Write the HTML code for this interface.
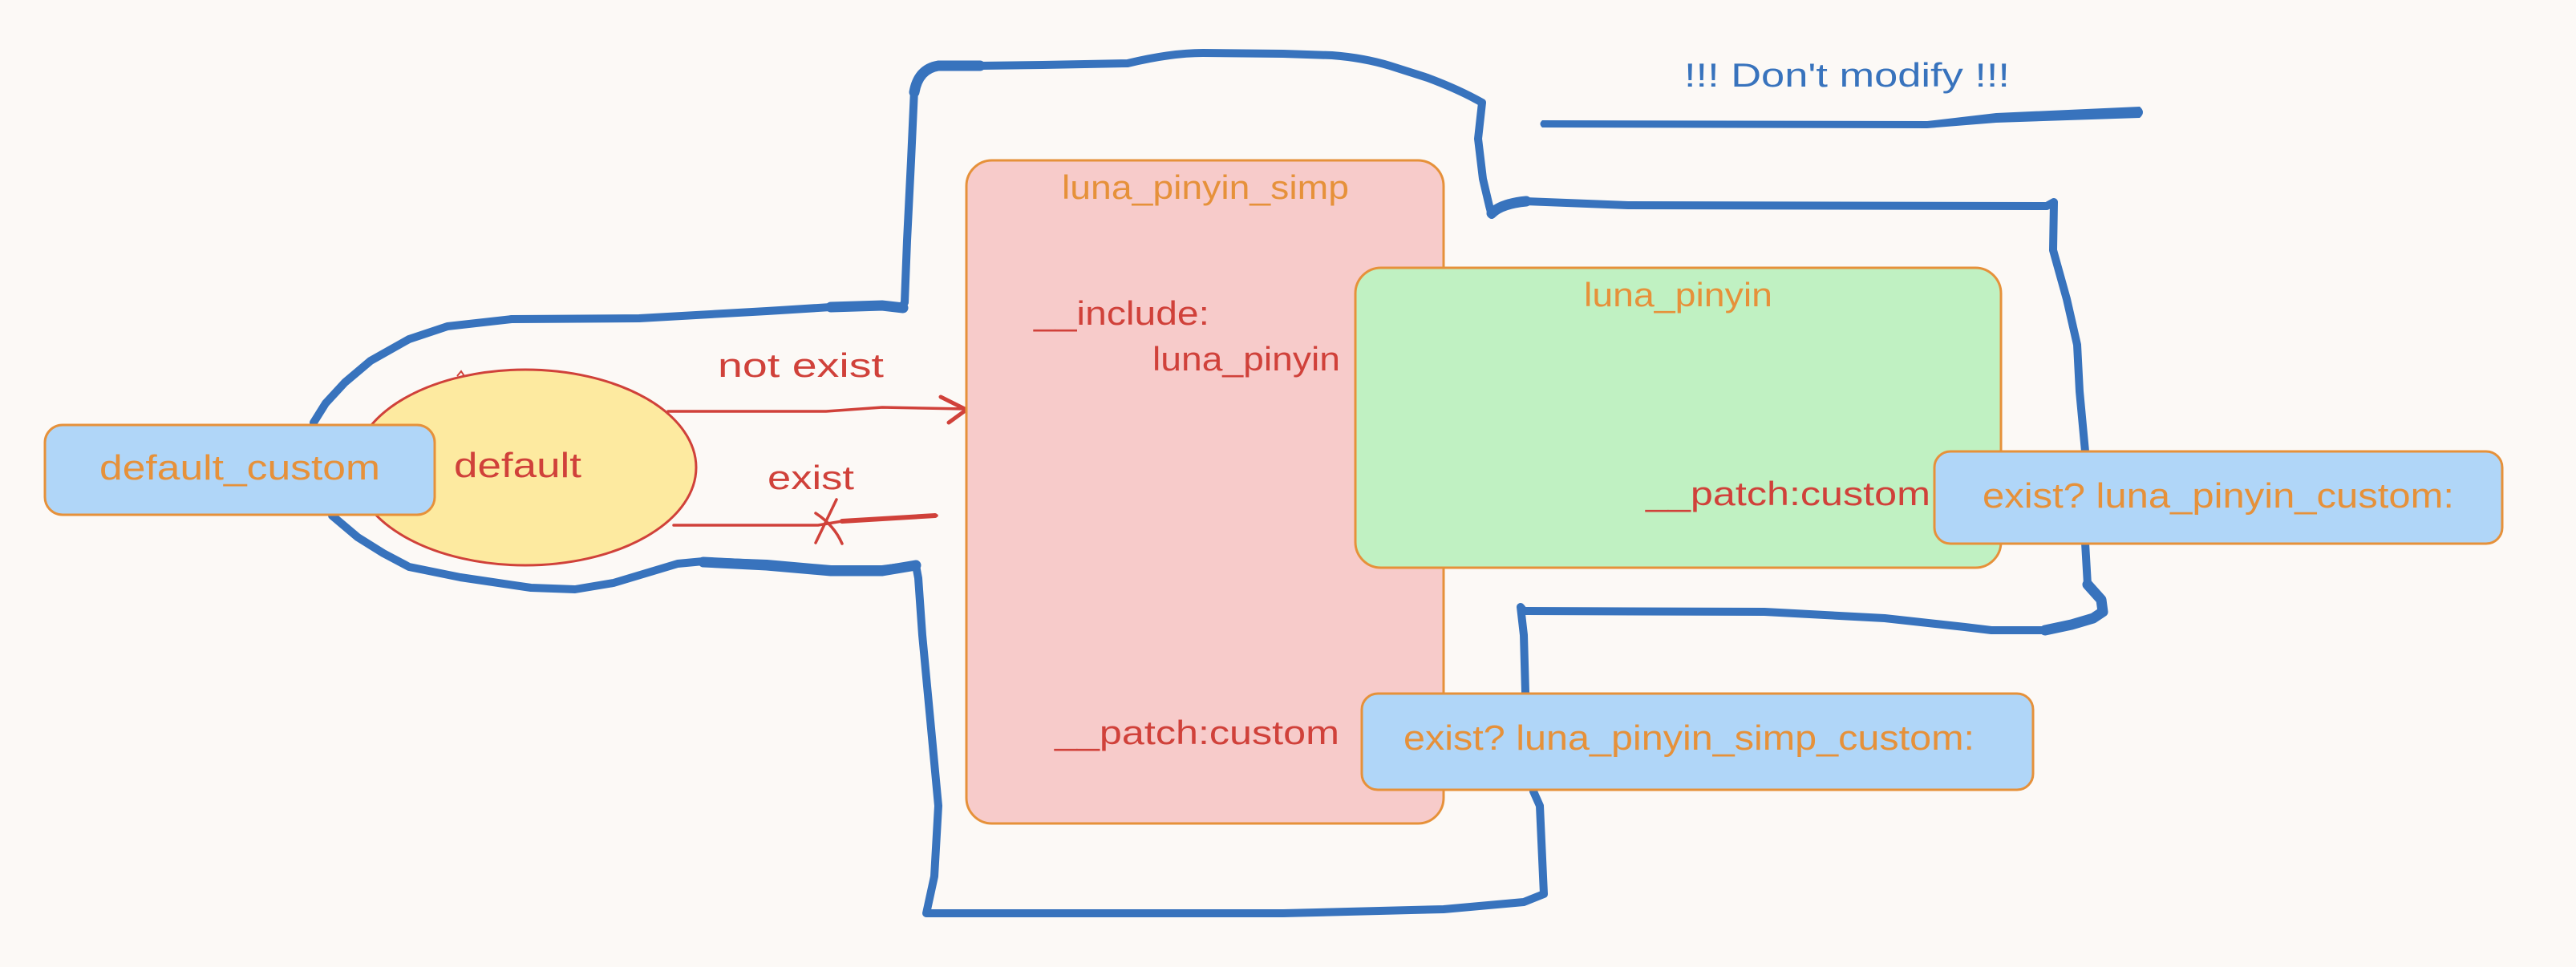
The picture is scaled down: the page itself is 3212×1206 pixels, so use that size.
<!DOCTYPE html>
<html>
<head>
<meta charset="utf-8">
<style>
  html,body{margin:0;padding:0;background:#fcf9f6;}
  svg{display:block;}
  text{font-family:"Liberation Sans", sans-serif;}
</style>
</head>
<body>
<svg width="3212" height="1206" viewBox="0 0 3212 1206" xmlns="http://www.w3.org/2000/svg">
  <rect x="0" y="0" width="3212" height="1206" fill="#fcf9f6"/>

  <!-- big blue hand-drawn loop (behind everything) -->
  <path d="M391,527 L406,503 L430,477 L462,450 L510,423 L558,407 L638,398 L797,397 L956,388 L1036,383 L1100,382 L1124,385 L1128,377 L1131,300 L1136,200 L1140,112 Q1145,84 1170,82 L1222,82 L1300,81 L1406,79 Q1460,66 1500,66 L1600,67 L1661,69 Q1700,72 1733,82 L1780,97 Q1820,112 1848,128 L1843,173 L1849,223 L1857,257 L1860,268 Q1870,254 1903,251 L2030,256 L2552,257 L2561,252 L2560,312 L2577,373 L2590,430 L2593,488 L2600,563 L2600,677 L2603,729 L2620,748 L2622,763 L2610,771 L2583,779 L2550,786 L2483,786 L2450,782 L2350,771 L2200,763 L1900,762 L1896,757 L1900,792 L1902,863 L1912,987 L1920,1005 L1925,1115 L1900,1125 L1800,1134 L1600,1139 L1155,1139 L1165,1093 L1170,1005 L1160,898 L1150,792 L1145,721 L1142,705 L1124,707 L1100,710 L1036,710 L956,703 L877,700 L845,703 L765,727 L717,735 L662,733 L574,720 L510,707 L478,690 L446,670 L414,643"
        fill="none" stroke="#3873bd" stroke-width="10" stroke-linejoin="round" stroke-linecap="round"/>
  <!-- thicker accents -->
  <path d="M1036,383 L1100,381 L1126,384" fill="none" stroke="#3873bd" stroke-width="13" stroke-linecap="round"/>
  <path d="M1140,115 Q1145,86 1170,82 L1222,82" fill="none" stroke="#3873bd" stroke-width="13" stroke-linecap="round"/>
  <path d="M1860,266 Q1872,254 1903,251" fill="none" stroke="#3873bd" stroke-width="13" stroke-linecap="round"/>
  <path d="M2603,729 L2620,748 L2622,763 L2610,771 L2583,779 L2550,786" fill="none" stroke="#3873bd" stroke-width="13" stroke-linecap="round" stroke-linejoin="round"/>
  <path d="M1142,705 L1124,708 L1100,712 L1036,712 L956,705 L877,701" fill="none" stroke="#3873bd" stroke-width="13" stroke-linecap="round" stroke-linejoin="round"/>

  <!-- Don't modify underline (tapered) -->
  <path d="M1923,150 L2403,151 L2489,141 L2668,133 Q2676,140 2668,147 L2489,153 L2403,160 L1923,159 Q1918,154.5 1923,150 Z" fill="#3873bd"/>
  <text x="2100" y="108" font-size="42" fill="#3873bd" textLength="406" lengthAdjust="spacingAndGlyphs">!!! Don't modify !!!</text>

  <!-- default ellipse -->
  <ellipse cx="655" cy="583" rx="213" ry="122" fill="#fdeaa0" stroke="#d0413a" stroke-width="3"/>
  <path d="M570,469 L575,463 L579,469" fill="none" stroke="#d0413a" stroke-width="2"/>

  <!-- default_custom box -->
  <rect x="56" y="530" width="486" height="112" rx="22" ry="22" fill="#b0d6f8" stroke="#e6913a" stroke-width="3"/>
  <text x="124" y="598" font-size="44" fill="#e6913a" textLength="350" lengthAdjust="spacingAndGlyphs">default_custom</text>
  <text x="566" y="595" font-size="44" fill="#d0413a" textLength="159" lengthAdjust="spacingAndGlyphs">default</text>

  <!-- arrows -->
  <path d="M833,513 L1030,513 L1100,508 L1203,510" fill="none" stroke="#d0413a" stroke-width="3.5" stroke-linecap="round" stroke-linejoin="round"/>
  <path d="M1173,495 L1205,511 L1183,527" fill="none" stroke="#d0413a" stroke-width="5" stroke-linecap="round" stroke-linejoin="round"/>
  <text x="895" y="470" font-size="42" fill="#d0413a" textLength="207" lengthAdjust="spacingAndGlyphs">not exist</text>

  <path d="M840,655 L1020,655 L1050,650 L1168,643" fill="none" stroke="#d0413a" stroke-width="3.5" stroke-linecap="round" stroke-linejoin="round"/>
  <path d="M1050,650 L1166,643" fill="none" stroke="#d0413a" stroke-width="6" stroke-linecap="round"/>
  <path d="M1043,623 Q1030,650 1017,677" fill="none" stroke="#d0413a" stroke-width="3.5" stroke-linecap="round"/>
  <path d="M1017,640 Q1040,655 1050,678" fill="none" stroke="#d0413a" stroke-width="3.5" stroke-linecap="round"/>
  <text x="957" y="610" font-size="42" fill="#d0413a" textLength="108" lengthAdjust="spacingAndGlyphs">exist</text>

  <!-- luna_pinyin_simp box -->
  <rect x="1205" y="200" width="595" height="827" rx="32" ry="32" fill="#f7cbca" stroke="#e6913a" stroke-width="3"/>
  <text x="1324" y="248" font-size="42" fill="#e6913a" textLength="358" lengthAdjust="spacingAndGlyphs">luna_pinyin_simp</text>
  <text x="1289" y="405" font-size="42" fill="#d0413a" textLength="219" lengthAdjust="spacingAndGlyphs">__include:</text>
  <text x="1437" y="462" font-size="42" fill="#d0413a" textLength="234" lengthAdjust="spacingAndGlyphs">luna_pinyin</text>
  <text x="1315" y="928" font-size="42" fill="#d0413a" textLength="355" lengthAdjust="spacingAndGlyphs">__patch:custom</text>

  <!-- luna_pinyin box -->
  <rect x="1690" y="334" width="805" height="374" rx="32" ry="32" fill="#c0f1c2" stroke="#e6913a" stroke-width="3"/>
  <text x="1975" y="382" font-size="42" fill="#e6913a" textLength="235" lengthAdjust="spacingAndGlyphs">luna_pinyin</text>
  <text x="2052" y="630" font-size="42" fill="#d0413a" textLength="355" lengthAdjust="spacingAndGlyphs">__patch:custom</text>

  <!-- exist? luna_pinyin_custom: -->
  <rect x="2412" y="563" width="708" height="115" rx="20" ry="20" fill="#b0d6f8" stroke="#e6913a" stroke-width="3"/>
  <text x="2472" y="633" font-size="44" fill="#e6913a" textLength="588" lengthAdjust="spacingAndGlyphs">exist? luna_pinyin_custom:</text>

  <!-- exist? luna_pinyin_simp_custom: -->
  <rect x="1698" y="865" width="837" height="120" rx="20" ry="20" fill="#b0d6f8" stroke="#e6913a" stroke-width="3"/>
  <text x="1750" y="935" font-size="44" fill="#e6913a" textLength="712" lengthAdjust="spacingAndGlyphs">exist? luna_pinyin_simp_custom:</text>
</svg>
</body>
</html>
